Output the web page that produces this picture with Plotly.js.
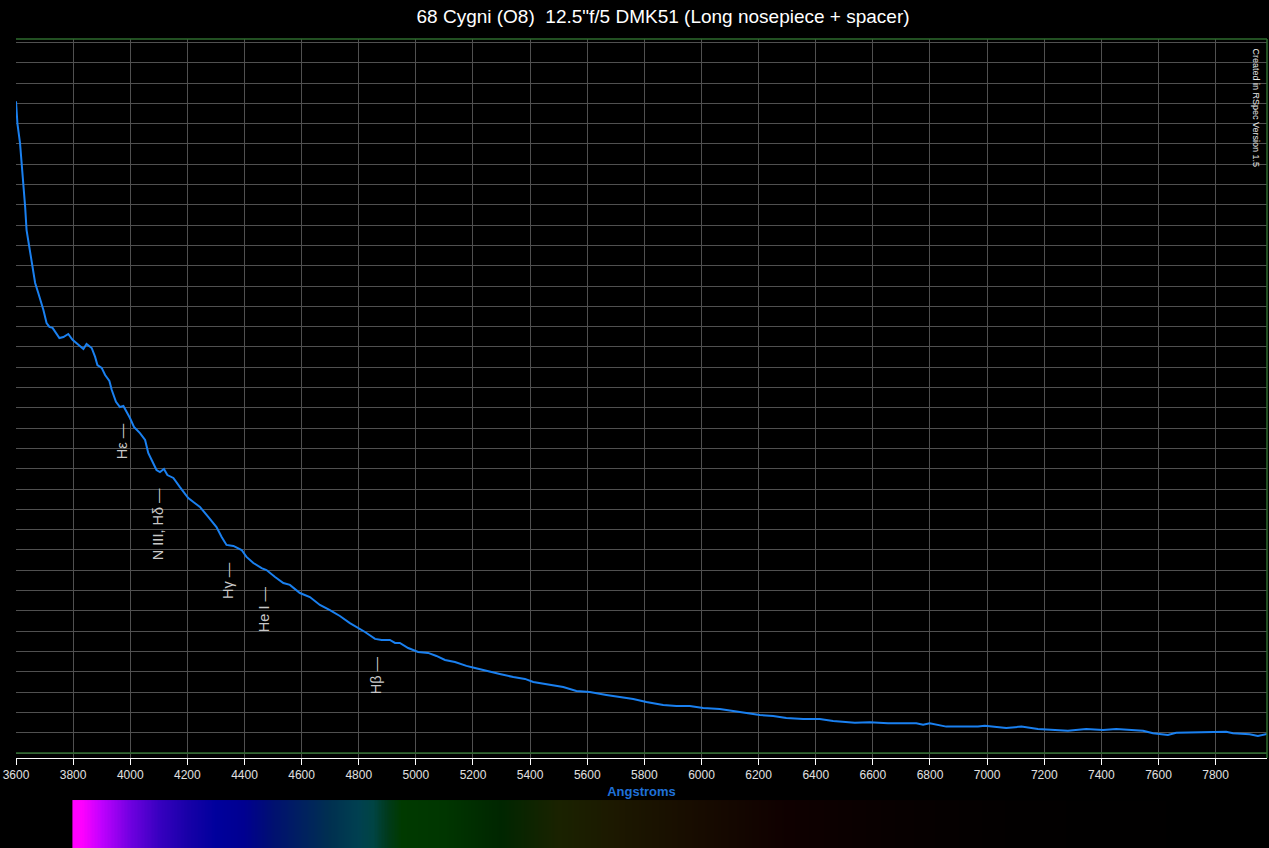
<!DOCTYPE html>
<html>
<head>
<meta charset="utf-8">
<script src="https://cdn.plot.ly/plotly-3.0.1.min.js"></script>
<style>
  html, body { margin: 0; padding: 0; background: #000; }
  #plot { width: 1269px; height: 848px; }
</style>
</head>
<body>
<div id="plot"></div>
<script>
// spectrum of 68 Cygni (relative units, 1 unit = 1 grid row)
var wave = [3600, 3605, 3614, 3620, 3626, 3632, 3637, 3647, 3658, 3667, 3678, 3690, 3696, 3707, 3717, 3728,
  3752, 3766, 3783, 3798, 3818, 3836, 3847, 3865, 3877, 3885, 3900, 3912, 3927, 3935, 3950, 3964,
  3976, 3988, 3999, 4013, 4034, 4052, 4063, 4075, 4092, 4104, 4118, 4130, 4151, 4174, 4203, 4221,
  4244, 4273, 4302, 4320, 4337, 4361, 4390, 4407, 4431, 4460, 4477, 4507, 4536, 4559, 4594, 4629,
  4664, 4699, 4734, 4769, 4798, 4822, 4857, 4880, 4909, 4927, 4944, 4973, 5008, 5043, 5072, 5102,
  5137, 5177, 5207, 5247, 5294, 5341, 5382, 5411, 5457, 5516, 5562, 5609, 5667, 5714, 5761, 5807,
  5866, 5912, 5959, 6006, 6064, 6111, 6157, 6204, 6251, 6297, 6356, 6414, 6461, 6519, 6537, 6589,
  6653, 6752, 6776, 6799, 6857, 6968, 6992, 7067, 7120, 7178, 7231, 7283, 7347, 7406, 7452, 7499,
  7546, 7581, 7633, 7662, 7721, 7767, 7837, 7861, 7919, 7948, 7983];
var flux = [32.1, 31.0, 30.05, 29.06, 27.88, 26.9, 25.76, 24.93, 23.94, 23.15, 22.66, 22.17, 21.82, 21.18, 20.99, 20.94,
  20.44, 20.49, 20.64, 20.35, 20.1, 19.9, 20.15, 19.95, 19.51, 19.11, 18.97, 18.62, 18.33, 17.89, 17.3, 17.04,
  17.09, 16.8, 16.5, 16.06, 15.76, 15.42, 14.78, 14.43, 13.94, 13.84, 13.99, 13.69, 13.55, 13.1, 12.56, 12.36,
  12.12, 11.63, 11.13, 10.64, 10.25, 10.2, 10.0, 9.66, 9.36, 9.11, 9.01, 8.67, 8.37, 8.28, 7.88, 7.68,
  7.29, 7.04, 6.75, 6.4, 6.16, 5.96, 5.62, 5.57, 5.57, 5.42, 5.42, 5.17, 4.98, 4.93, 4.78, 4.58,
  4.48, 4.29, 4.19, 4.04, 3.89, 3.74, 3.65, 3.5, 3.4, 3.25, 3.05, 3.0, 2.86, 2.76, 2.66, 2.51,
  2.36, 2.32, 2.32, 2.22, 2.17, 2.07, 1.97, 1.87, 1.82, 1.72, 1.67, 1.67, 1.58, 1.53, 1.49, 1.51,
  1.46, 1.46, 1.39, 1.46, 1.3, 1.3, 1.34, 1.23, 1.3, 1.18, 1.13, 1.1, 1.18, 1.13, 1.18, 1.13,
  1.1, 0.97, 0.89, 1.0, 1.02, 1.0, 1.05, 0.97, 0.92, 0.84, 0.94];

// identified lines
var lineNames = ['Hε —', 'N III, Hδ —', 'Hγ —', 'He I —', 'Hβ —'];
var lineWaves = [3970, 4100, 4340, 4471, 4861];

// colour strip under the axis
var stripWaves = [3800, 3830, 3900, 4000, 4100, 4200, 4300, 4400, 4500, 4600, 4700, 4800, 4850, 4900, 4950,
  5100, 5300, 5500, 5700, 6000, 6300, 6700, 7100, 7800];
var stripColors = ['#ff00ff', '#ff00ff', '#c000ff', '#7000e0', '#3800c0', '#1800a8', '#00009c', '#000090',
  '#001070', '#002060', '#003050', '#004050', '#004444', '#003a1c', '#003a00', '#003600', '#002600',
  '#1a2200', '#1c1800', '#170b00', '#0f0000', '#070000', '#020000', '#000000'];

var titleText = '68 Cygni (O8)\u00a0\u00a012.5"f/5 DMK51 (Long nosepiece + spacer)';

function fluxAt(w) {
  for (var i = 1; i < wave.length; i++) {
    if (wave[i] >= w) {
      var t = (w - wave[i - 1]) / (wave[i] - wave[i - 1]);
      return flux[i - 1] + t * (flux[i] - flux[i - 1]);
    }
  }
  return flux[flux.length - 1];
}

var wMin = stripWaves[0], wMax = stripWaves[stripWaves.length - 1];
var scale = [];
for (var i = 0; i < stripWaves.length; i++) {
  scale.push([(stripWaves[i] - wMin) / (wMax - wMin), stripColors[i]]);
}
var stripX = [];
for (var w = wMin; w <= wMax; w += 5) stripX.push(w);

var traces = [
  {
    x: wave, y: flux, type: 'scatter', mode: 'lines',
    line: { color: '#1a80f0', width: 2 },
    hoverinfo: 'x+y', showlegend: false
  },
  {
    x: stripX, y: [0], z: [stripX], type: 'heatmap',
    xaxis: 'x2', yaxis: 'y2',
    colorscale: scale, zmin: wMin, zmax: wMax,
    showscale: false, hoverinfo: 'skip'
  }
];

var anns = [];
for (var k = 0; k < lineNames.length; k++) {
  anns.push({
    x: lineWaves[k], y: fluxAt(lineWaves[k]), xref: 'x', yref: 'y',
    text: lineNames[k], textangle: -90, showarrow: false,
    xanchor: 'center', yanchor: 'top', yshift: -15,
    font: { family: 'Liberation Sans, Arial, sans-serif', size: 14.5, color: '#c8c8c8' }
  });
}
anns.push({
  x: 1, y: 1, xref: 'paper', yref: 'y domain',
  text: 'Created in RSpec Version 1.5', textangle: 90, showarrow: false,
  xanchor: 'right', yanchor: 'top', xshift: -4, yshift: -7,
  font: { family: 'Liberation Sans Narrow, Liberation Sans, Arial, sans-serif', size: 9, color: '#e8e8e8' }
});

var border = '#2e6b2e';
var layout = {
  width: 1269, height: 848,
  paper_bgcolor: '#000', plot_bgcolor: '#000',
  margin: { l: 16, r: 2, t: 39, b: 0 },
  showlegend: false,
  title: {
    text: titleText, x: 0.5225, xanchor: 'center', xref: 'container',
    y: 0.981, yanchor: 'middle', yref: 'container',
    font: { family: 'Liberation Sans, Arial, sans-serif', size: 19, color: '#ffffff' }
  },
  xaxis: {
    range: [3600, 7980], tick0: 3600, dtick: 200, anchor: 'y',
    showgrid: true, gridcolor: '#505050', gridwidth: 1, zeroline: false,
    showline: true, linecolor: '#ffffff', linewidth: 1,
    ticks: 'outside', ticklen: 6, tickcolor: '#ffffff',
    tickfont: { family: 'Liberation Sans Narrow, Liberation Sans, Arial, sans-serif', size: 12, color: '#e0e0e0' },
    title: {
      text: '<b>Angstroms</b>', standoff: 5,
      font: { family: 'Liberation Sans Narrow, Liberation Sans, Arial, sans-serif', size: 13, color: '#1f70d8' }
    }
  },
  yaxis: {
    domain: [0.11125, 1], range: [-0.246, 35.17], tick0: 0, dtick: 1,
    showticklabels: false, ticks: '', showgrid: true, gridcolor: '#505050', gridwidth: 1,
    zeroline: false, showline: false
  },
  xaxis2: { range: [3600, 7980], anchor: 'y2', visible: false },
  yaxis2: { domain: [0, 0.0593], range: [-0.5, 0.5], visible: false },
  shapes: [
    { type: 'line', xref: 'x domain', yref: 'y domain', x0: 0, x1: 1, y0: 1, y1: 1, line: { color: border, width: 1.5 } },
    { type: 'line', xref: 'x domain', yref: 'y domain', x0: 1, x1: 1, y0: 0, y1: 1, line: { color: border, width: 1.5 } },
    { type: 'line', xref: 'x domain', yref: 'y', x0: 0, x1: 1, y0: 0, y1: 0, line: { color: border, width: 1.5 } }
  ],
  annotations: anns
};

Plotly.newPlot('plot', traces, layout, { displayModeBar: false, staticPlot: true });
</script>
</body>
</html>
